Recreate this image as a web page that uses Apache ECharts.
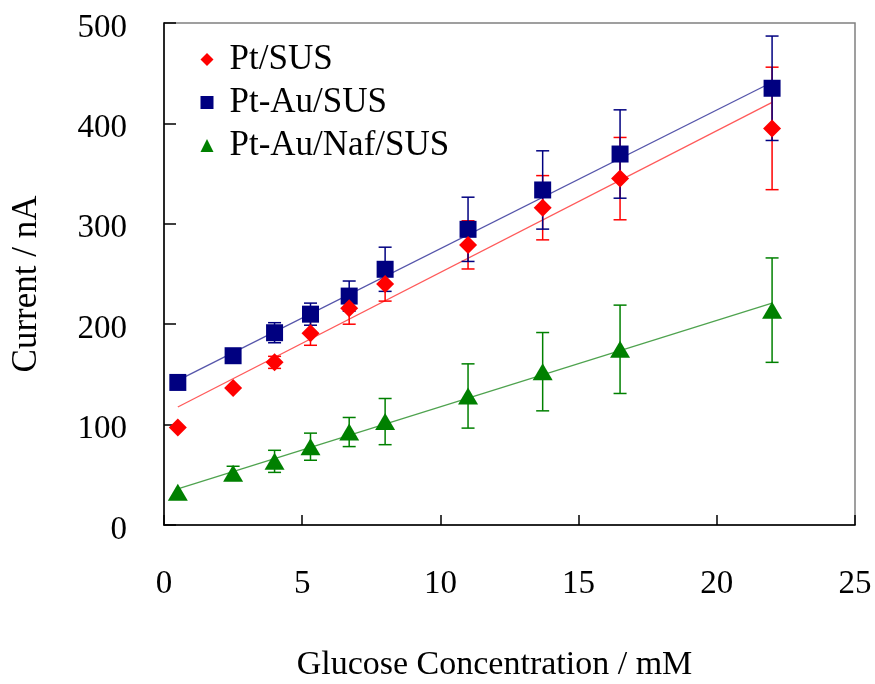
<!DOCTYPE html>
<html>
<head>
<meta charset="utf-8">
<script src="https://cdn.jsdelivr.net/npm/echarts@6/dist/echarts.min.js"></script>
<style>
html,body{margin:0;padding:0;background:#fff;}
#chart{width:875px;height:684px;}
</style>
</head>
<body>
<div id="chart"></div>
<script>
// Glucose concentration (mM)
var concentrations = [0.5, 2.5, 4, 5.3, 6.7, 8, 11, 13.7, 16.5, 22];
// Currents (nA)
var ptSus = [97, 136.5, 162, 191, 216, 240, 279, 316, 345, 395];
var ptAuSus = [142, 168.6, 191.5, 210, 228, 254.7, 294.5, 333.7, 369.5, 435];
var ptAuNafSus = [32.5, 51.5, 63.4, 78, 92.6, 103, 128.5, 152.7, 175, 214];
// Error bar half-widths (nA)
var ptSusErr = [0, 0, 6, 12, 16, 17, 24, 32, 41, 61];
var ptAuSusErr = [0, 0, 10, 11, 15, 22, 32, 39, 44, 52];
var ptAuNafSusErr = [0, 7, 11, 13.5, 14.5, 23, 32, 39, 44, 52];
// Linear trend lines: value at first and last concentration
var ptSusTrend = [117.5, 421];
var ptAuSusTrend = [144, 441];
var ptAuNafSusTrend = [36, 221];
// Series names
var seriesNames = ['Pt/SUS', 'Pt-Au/SUS', 'Pt-Au/Naf/SUS'];
// Axis ticks
var xTicks = [0, 5, 10, 15, 20, 25];
var yTicks = [0, 100, 200, 300, 400, 500];

var FONT = "'Liberation Serif', 'Times New Roman', serif";

function pts(xs, ys) { return xs.map(function (x, i) { return [x, ys[i]]; }); }
function errs(xs, ys, es) {
  var out = [];
  xs.forEach(function (x, i) { if (es[i] > 0) out.push([x, ys[i] - es[i], ys[i] + es[i]]); });
  return out;
}
function trend(xs, t) { return [[xs[0], t[0]], [xs[xs.length - 1], t[1]]]; }
function errRender(color) {
  return function (params, api) {
    var x = api.value(0), lo = api.value(1), hi = api.value(2);
    var p1 = api.coord([x, hi]), p2 = api.coord([x, lo]);
    var hw = 6.5;
    var st = { stroke: color, lineWidth: 1.5 };
    return { type: 'group', children: [
      { type: 'line', shape: { x1: p1[0], y1: p1[1], x2: p2[0], y2: p2[1] }, style: st },
      { type: 'line', shape: { x1: p1[0] - hw, y1: p1[1], x2: p1[0] + hw, y2: p1[1] }, style: st },
      { type: 'line', shape: { x1: p2[0] - hw, y1: p2[1], x2: p2[0] + hw, y2: p2[1] }, style: st }
    ] };
  };
}

var colors = ['#ff0000', '#000080', '#008000'];
var lineColors = ['#ff5a5a', '#5555aa', '#4fa34f'];

var chart = echarts.init(document.getElementById('chart'), null, { renderer: 'canvas' });
chart.setOption({
  animation: false,
  backgroundColor: '#ffffff',
  grid: { left: 164, right: 20, top: 23, bottom: 159, show: true, containLabel: false, outerBoundsMode: 'none', borderColor: '#808080', borderWidth: 1.5, backgroundColor: 'transparent' },
  legend: {
    orient: 'vertical', left: 200.5, top: 42, padding: 0, itemGap: 8,
    itemWidth: 13, itemHeight: 13,
    data: seriesNames,
    textStyle: { fontFamily: FONT, fontSize: 35, color: '#000', lineHeight: 35, padding: [0, 0, 0, 11] }
  },
  xAxis: {
    type: 'value', min: xTicks[0], max: xTicks[xTicks.length - 1], interval: 5,
    name: 'Glucose Concentration / mM', nameLocation: 'middle', nameGap: 123,
    nameTextStyle: { fontFamily: FONT, fontSize: 34, color: '#000', padding: [0, 30, 0, 0] },
    axisLine: { show: true, lineStyle: { color: '#000', width: 1.5 } },
    axisTick: { show: true, inside: true, length: 10, lineStyle: { color: '#000', width: 1.5 } },
    axisLabel: { fontFamily: FONT, fontSize: 33, color: '#000', margin: 43 },
    splitLine: { show: false }
  },
  yAxis: {
    type: 'value', min: yTicks[0], max: yTicks[yTicks.length - 1], interval: 100,
    name: 'Current / nA', nameLocation: 'middle', nameGap: 120,
    nameTextStyle: { fontFamily: FONT, fontSize: 35, color: '#000', padding: [0, 20, 0, 0] },
    axisLine: { show: true, lineStyle: { color: '#000', width: 1.5 } },
    axisTick: { show: true, inside: true, length: 12, lineStyle: { color: '#000', width: 1.5 } },
    axisLabel: { fontFamily: FONT, fontSize: 33, color: '#000', margin: 37, verticalAlign: 'top', lineHeight: 10 },
    splitLine: { show: false }
  },
  series: [
    { type: 'line', silent: true, showSymbol: false, z: 1, data: trend(concentrations, ptSusTrend), lineStyle: { color: lineColors[0], width: 1.3 } },
    { type: 'line', silent: true, showSymbol: false, z: 1, data: trend(concentrations, ptAuSusTrend), lineStyle: { color: lineColors[1], width: 1.3 } },
    { type: 'line', silent: true, showSymbol: false, z: 1, data: trend(concentrations, ptAuNafSusTrend), lineStyle: { color: lineColors[2], width: 1.3 } },
    { type: 'custom', z: 2, data: errs(concentrations, ptSus, ptSusErr), renderItem: errRender(colors[0]) },
    { type: 'custom', z: 2, data: errs(concentrations, ptAuSus, ptAuSusErr), renderItem: errRender(colors[1]) },
    { type: 'custom', z: 2, data: errs(concentrations, ptAuNafSus, ptAuNafSusErr), renderItem: errRender(colors[2]) },
    { name: seriesNames[1], type: 'scatter', z: 3, symbol: 'rect', symbolSize: 17, itemStyle: { color: colors[1], opacity: 1 }, data: pts(concentrations, ptAuSus) },
    { name: seriesNames[0], type: 'scatter', z: 4, symbol: 'diamond', symbolSize: 18, itemStyle: { color: colors[0], opacity: 1 }, data: pts(concentrations, ptSus) },
    { name: seriesNames[2], type: 'scatter', z: 4, symbol: 'triangle', symbolSize: [20, 17], itemStyle: { color: colors[2], opacity: 1 }, data: pts(concentrations, ptAuNafSus) }
  ]
});
</script>
</body>
</html>
